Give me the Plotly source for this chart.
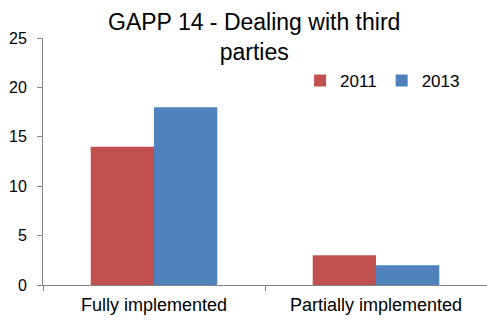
import plotly.graph_objects as go

categories = ["Fully implemented", "Partially implemented"]
years = ["2011", "2013"]
values_2011 = [14, 3]
values_2013 = [18, 2]
colors = {"2011": "#C0504D", "2013": "#4F81BD"}

fig = go.Figure()
for year, vals in zip(years, [values_2011, values_2013]):
    fig.add_trace(go.Bar(
        x=categories, y=vals, name=year,
        marker=dict(color=colors[year], line=dict(width=0)),
    ))

axis_color = "#868686"
font_family = "Liberation Sans, Arial, sans-serif"

fig.update_layout(
    width=487, height=320,
    margin=dict(l=43, r=0, t=38, b=35),
    paper_bgcolor="white", plot_bgcolor="white",
    font=dict(family=font_family, size=16, color="black"),
    barmode="group", bargap=0.43, bargroupgap=0,
    legend=dict(
        orientation="h", x=0.579, y=0.826, xanchor="left", yanchor="middle",
        font=dict(size=17), itemwidth=30,
        bgcolor="rgba(0,0,0,0)", traceorder="normal",
    ),
    showlegend=True,
)

# Chart title, two lines, placed above the plot area
fig.add_annotation(
    text="GAPP 14 - Dealing with third<br>parties",
    xref="paper", yref="paper",
    x=(254 - 43) / 444, y=1 + (38 - 7) / 247,
    xanchor="center", yanchor="top", showarrow=False,
    font=dict(size=23, family=font_family, color="black"),
)

fig.update_yaxes(
    range=[0, 25], tickvals=[0, 5, 10, 15, 20, 25],
    showgrid=False, zeroline=False,
    showline=True, linecolor=axis_color, linewidth=1,
    ticks="outside", ticklen=5, tickcolor=axis_color,
    tickfont=dict(size=16), ticklabelstandoff=7,
)
fig.update_xaxes(
    showgrid=False, showline=True, linecolor=axis_color, linewidth=1,
    ticks="outside", ticklen=5, tickcolor=axis_color, tickson="boundaries",
    tickfont=dict(size=18), ticklabelstandoff=3,
)

fig.write_html("out.html")
